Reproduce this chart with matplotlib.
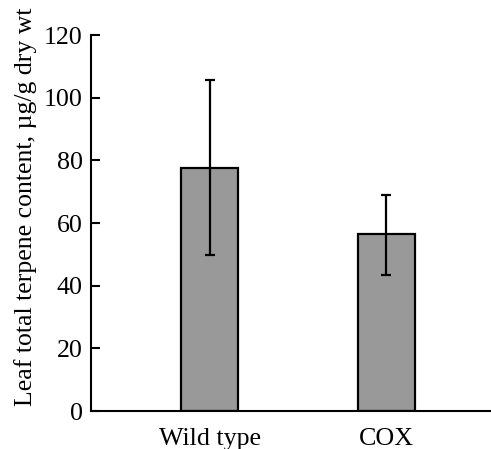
import numpy as np
import matplotlib
matplotlib.use('Agg')
import matplotlib.pyplot as plt

# data
groups = ['Wild type', 'COX']
terpene = [77.6, 56.5]
err_lo = [27.8, 13.2]
err_hi = [27.9, 12.3]
yticks = [0, 20, 40, 60, 80, 100, 120]

plt.rcParams['font.family'] = ['Liberation Serif', 'DejaVu Serif']

fig = plt.figure(figsize=(4.91, 4.49), dpi=100)
ax = fig.add_axes([91 / 491, 38 / 449, 400 / 491, 376 / 449])

x = np.arange(len(groups))
ax.bar(x, terpene, width=0.324, color='#999999', edgecolor='black', linewidth=1.6,
       yerr=[err_lo, err_hi], capsize=3.8,
       error_kw=dict(ecolor='black', elinewidth=1.6, capthick=1.6))

ax.set_xlim(-0.673, 1.594)
ax.set_ylim(0, 120)
ax.set_yticks(yticks)
ax.set_xticks(x)
ax.set_xticklabels(groups, fontsize=18.7)
ax.tick_params(axis='y', direction='in', length=6.5, width=1.5, labelsize=18.7, pad=6)
ax.tick_params(axis='x', length=0, pad=12)
ax.set_ylabel('Leaf total terpene content, µg/g dry wt', fontsize=18.5)
ax.yaxis.set_label_coords(-0.135, 0.543)

for side in ['top', 'right']:
    ax.spines[side].set_visible(False)
for side in ['left', 'bottom']:
    ax.spines[side].set_linewidth(1.5)

fig.savefig('out.png', dpi=100)
